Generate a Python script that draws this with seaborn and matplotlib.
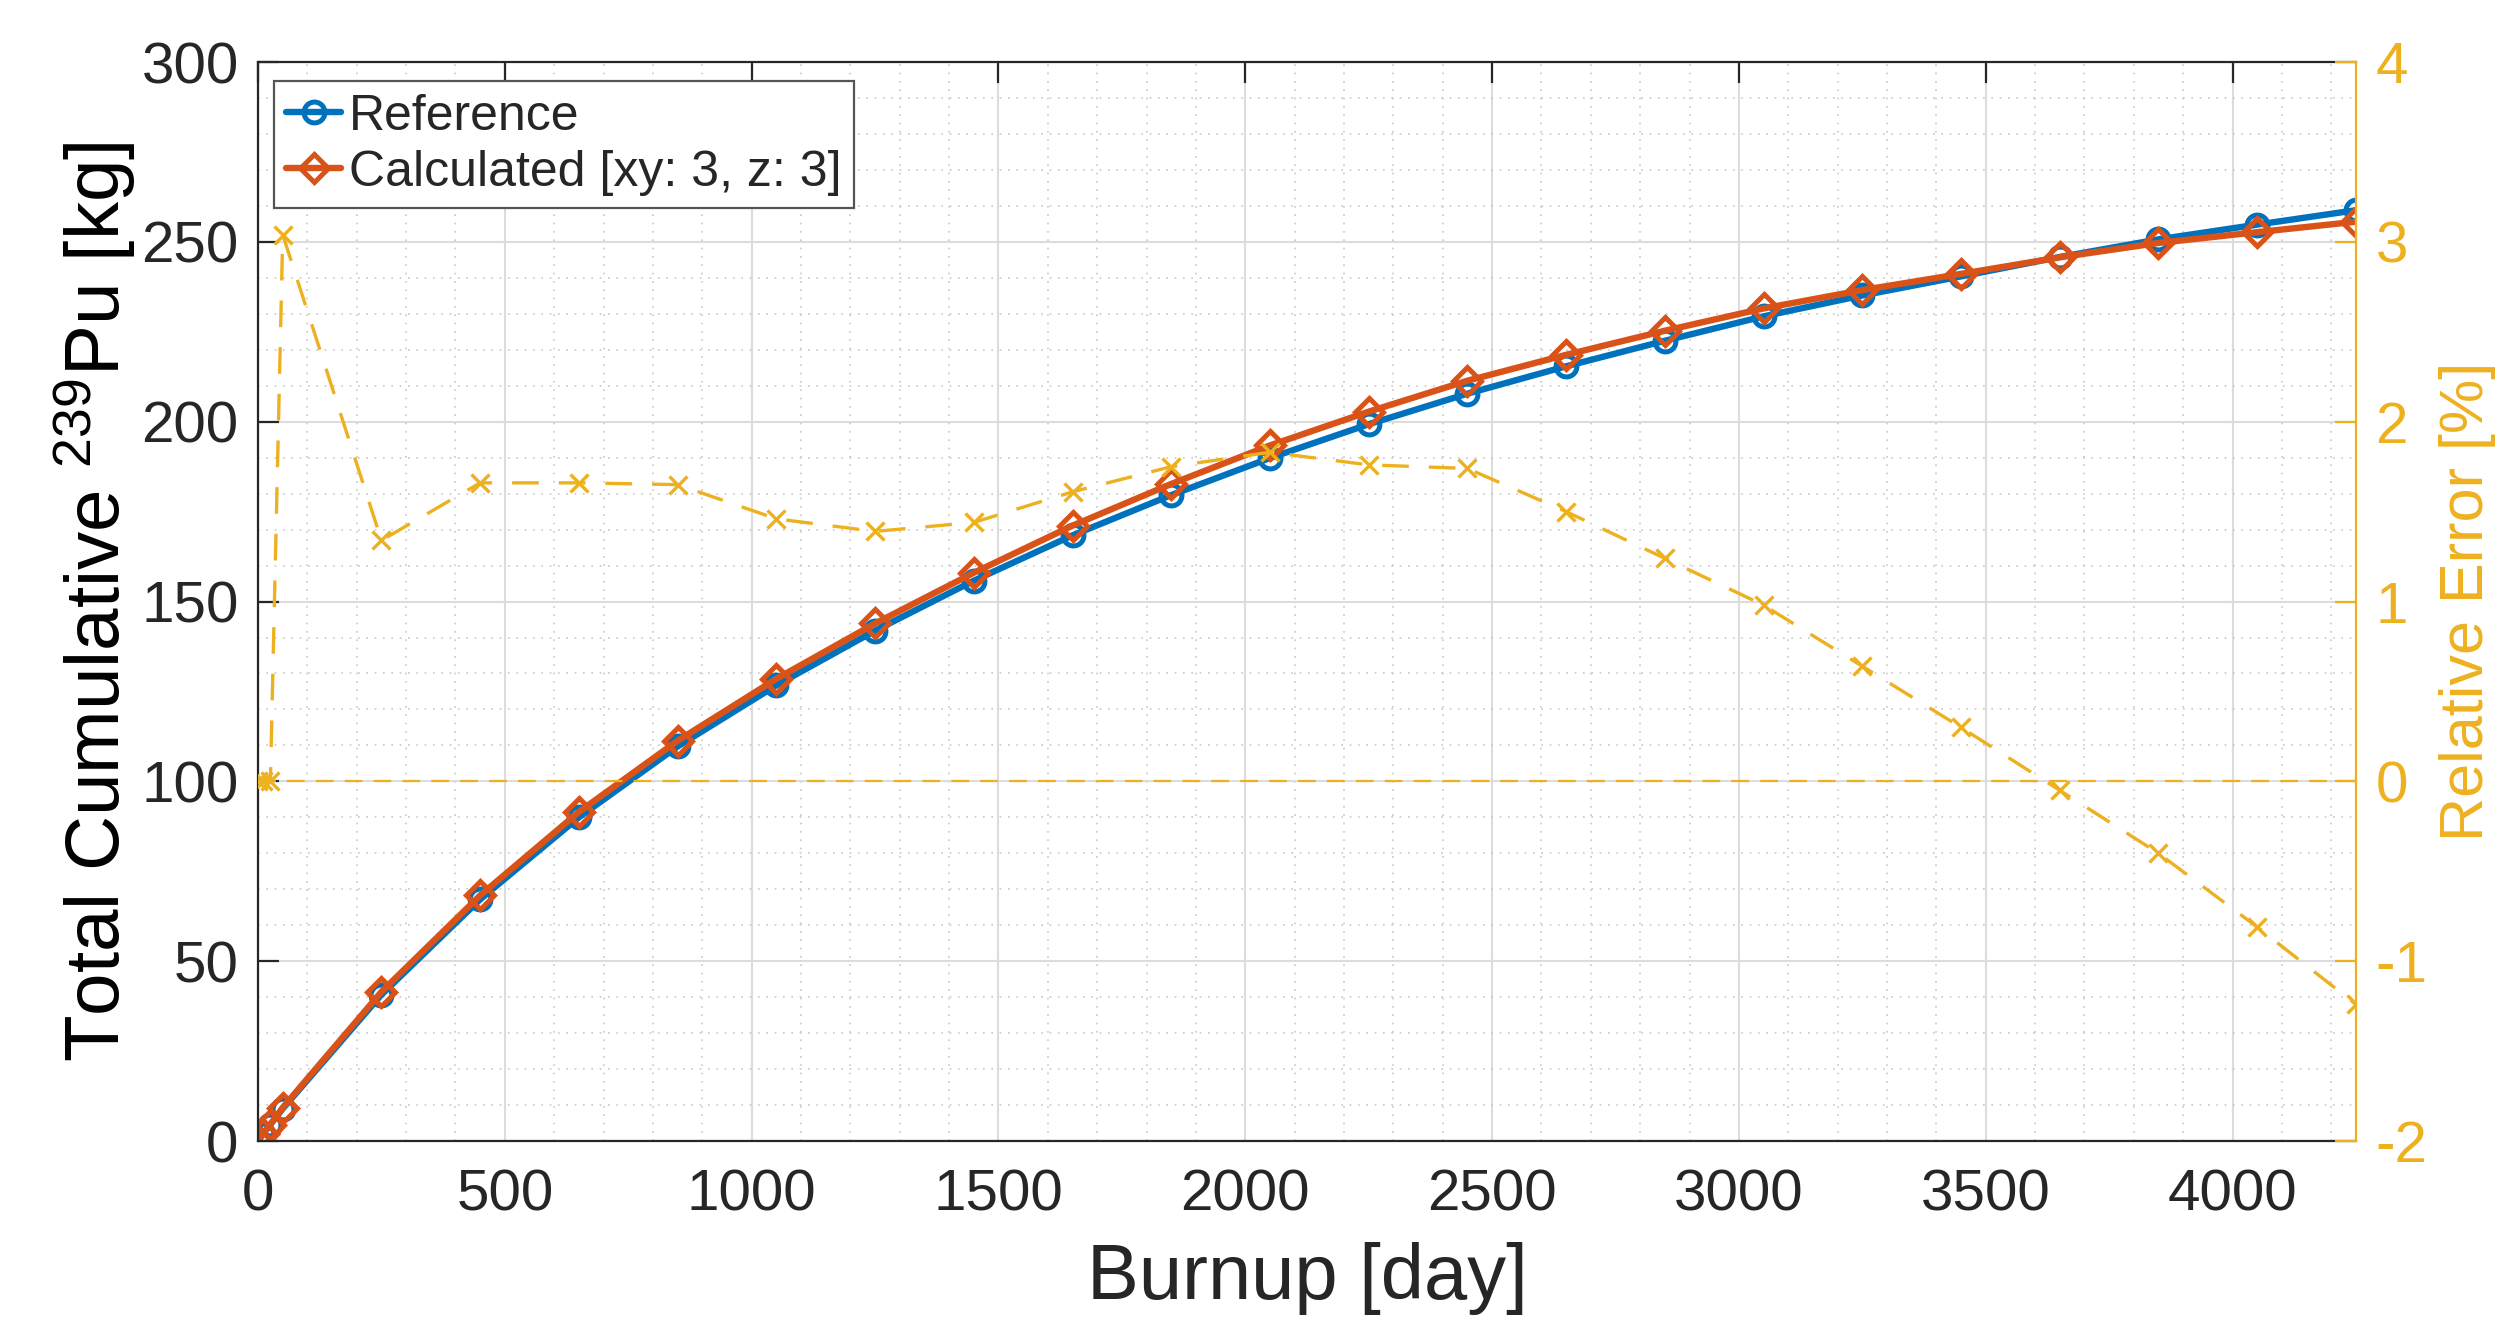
import numpy as np
import matplotlib
matplotlib.use("Agg")
import matplotlib.pyplot as plt
import seaborn as sns
from matplotlib.ticker import MultipleLocator

# Burnup steps [day]
burnup = [0, 10, 25, 50, 250, 450, 650, 850, 1050, 1250, 1450, 1650, 1850, 2050,
          2250, 2450, 2650, 2850, 3050, 3250, 3450, 3650, 3850, 4050, 4250]

# Total cumulative Pu-239 [kg]
reference = [0, 2.0, 4.6, 9.0, 40.7, 67.2, 90.0, 109.7, 126.7, 141.9, 155.8, 168.4,
             179.6, 189.9, 199.3, 207.8, 215.4, 222.5, 229.3, 235.1, 240.4, 245.8,
             250.7, 254.8, 258.8]
calculated = [0, 2.0, 4.6, 9.3, 41.5, 68.3, 91.5, 111.3, 128.5, 143.9, 158.0, 171.1,
              182.7, 193.4, 202.8, 211.4, 218.6, 225.3, 231.5, 236.6, 241.1, 245.7,
              249.7, 252.7, 255.6]

# Relative error [%]
rel_error = [0, 0, 0, 3.04, 1.34, 1.66, 1.66, 1.65, 1.46, 1.39, 1.44, 1.61, 1.75,
             1.83, 1.76, 1.74, 1.50, 1.24, 0.98, 0.64, 0.30, -0.05, -0.40, -0.81, -1.24]

blue = "#0072BD"
orange = "#D95319"
yellow = "#EDB120"
dark = "#262626"

sns.set_theme(style="white")
plt.rcParams['font.family'] = ['Liberation Sans', 'DejaVu Sans']
plt.rcParams['mathtext.fontset'] = 'custom'
plt.rcParams['mathtext.rm'] = 'Liberation Sans'
plt.rcParams['mathtext.default'] = 'regular'
plt.rcParams['axes.unicode_minus'] = False

fig = plt.figure(figsize=(25.2, 13.17), dpi=100)
ax = fig.add_axes([0.1024, 0.1336, 0.8325, 0.8193])
ax2 = ax.twinx()

# left axis: Pu-239 mass
sns.lineplot(x=burnup, y=reference, ax=ax, color=blue, lw=4.6, marker='o',
             markersize=15, markerfacecolor='none', markeredgecolor=blue,
             markeredgewidth=3.6, label='Reference', sort=False)
sns.lineplot(x=burnup, y=calculated, ax=ax, color=orange, lw=4.6, marker='D',
             markersize=14, markerfacecolor='none', markeredgecolor=orange,
             markeredgewidth=3.6, label='Calculated [xy: 3, z: 3]', sort=False)
handles, labels = ax.get_legend_handles_labels()
if ax.get_legend() is not None:
    ax.get_legend().remove()

# right axis: relative error
ax2.axhline(0, color=yellow, lw=1.6, ls=(0, (8, 5)))
sns.lineplot(x=burnup, y=rel_error, ax=ax2, color=yellow, lw=2.4, ls='--',
             marker='x', markersize=13, markeredgewidth=2.4, markeredgecolor=yellow,
             sort=False, legend=False)
ax2.lines[-1].set_dashes([8, 6])

ax.set_xlim(0, 4250)
ax.set_ylim(0, 300)
ax2.set_ylim(-2, 4)

ax.xaxis.set_major_locator(MultipleLocator(500))
ax.xaxis.set_minor_locator(MultipleLocator(100))
ax.yaxis.set_major_locator(MultipleLocator(50))
ax.yaxis.set_minor_locator(MultipleLocator(10))
ax2.yaxis.set_major_locator(MultipleLocator(1))
ax2.yaxis.set_minor_locator(MultipleLocator(0.2))

ax.grid(which='major', color='#DCDCDC', lw=1.5, ls='-')
ax.grid(which='minor', color='#C8C8C8', lw=1.2, ls=(0, (1, 4)))
ax.set_axisbelow(True)

ax.tick_params(axis='both', which='major', direction='in', length=15, width=1.6,
               labelsize=42, colors=dark, top=True, pad=14)
ax.tick_params(axis='both', which='minor', length=0)
ax.tick_params(axis='x', pad=20)
ax2.tick_params(axis='y', which='major', direction='in', length=15, width=1.6,
                labelsize=42, colors=yellow, pad=14)
ax2.tick_params(axis='y', which='minor', length=0)

for name in ['left', 'bottom', 'top']:
    ax.spines[name].set_color(dark)
    ax.spines[name].set_linewidth(1.6)
ax2.spines['right'].set_color(yellow)
ax2.spines['right'].set_linewidth(1.6)
ax.spines['right'].set_visible(False)
for name in ['left', 'bottom', 'top']:
    ax2.spines[name].set_visible(False)

ax.set_xlabel('Burnup [day]', fontsize=56, color=dark, labelpad=14)
ax.set_ylabel('Total Cumulative $^{239}$Pu [kg]', fontsize=55, color='black', labelpad=2)
ax2.set_ylabel('Relative Error [%]', fontsize=44, color=yellow, labelpad=8)

leg = ax2.legend(handles, labels, loc='upper left', bbox_to_anchor=(0.0075, 0.982),
                 fontsize=36, frameon=True, fancybox=False, framealpha=1,
                 edgecolor='#555555', handlelength=1.1, handletextpad=0.15,
                 borderpad=0.25, labelspacing=0.2, borderaxespad=0)
leg.get_frame().set_linewidth(1.6)

fig.savefig('out.png', dpi=100)
